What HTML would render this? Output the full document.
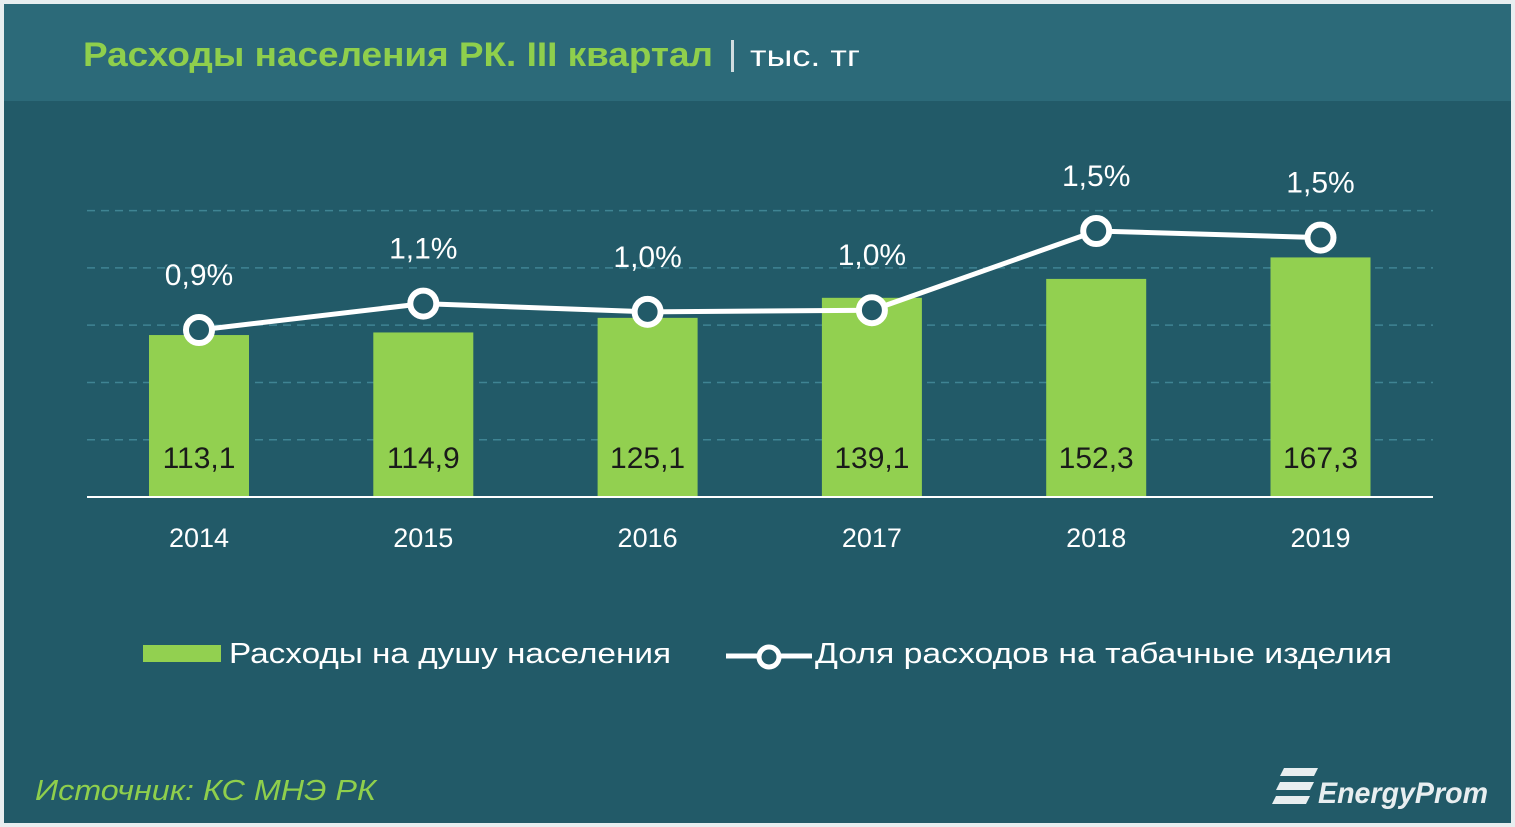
<!DOCTYPE html>
<html><head><meta charset="utf-8"><style>
body{margin:0;width:1515px;height:827px;background:#e8eef0;overflow:hidden;font-family:"Liberation Sans",sans-serif}
#card{position:absolute;left:4px;top:4px;width:1507px;height:819px;background:#225a68}
#hdr{position:absolute;left:0;top:0;width:1507px;height:97px;background:#2c6a79}
</style></head><body>
<div id="card">
<div id="hdr"></div>
</div>
<svg width="1515" height="827" style="position:absolute;left:0;top:0">
<text x="83" y="66" font-size="34" font-weight="bold" fill="#8fcf4c" textLength="630" lengthAdjust="spacingAndGlyphs">Расходы населения РК. III квартал</text>
<rect x="731" y="40" width="3" height="32" fill="#d0dde0"/>
<text x="750" y="66" font-size="30" fill="#ffffff" textLength="110" lengthAdjust="spacingAndGlyphs">тыс. тг</text>
<g id="grid"></g><g id="bars"></g><g id="line"></g>
<line x1="87" x2="1433" y1="497" y2="497" stroke="#ffffff" stroke-width="2"/>
<g>
<rect x="143" y="645" width="78" height="17" fill="#92d050"/>
<text x="229" y="663" font-size="29" fill="#fff" textLength="442" lengthAdjust="spacingAndGlyphs">Расходы на душу населения</text>
<line x1="726" x2="812" y1="656" y2="656" stroke="#fff" stroke-width="5"/>
<circle cx="769" cy="657" r="10" fill="#225a68" stroke="#fff" stroke-width="5"/>
<text x="815" y="663" font-size="29" fill="#fff" textLength="577" lengthAdjust="spacingAndGlyphs">Доля расходов на табачные изделия</text>
</g>
<text x="35" y="800" font-size="29" font-style="italic" fill="#8fcf4c" textLength="341" lengthAdjust="spacingAndGlyphs">Источник: КС МНЭ РК</text>
<g>
<path d="M1284 768h34l-4 8h-34zM1280 782h34l-4 8h-34zM1276 796h34l-4 8h-34z" fill="#e8eef0"/>
<text x="1318" y="803" font-size="30" font-style="italic" font-weight="bold" fill="#e8eef0" textLength="170" lengthAdjust="spacingAndGlyphs">EnergyProm</text>
</g>
</svg>
<script>
const years=["2014","2015","2016","2017","2018","2019"];
const spend=[113.1,114.9,125.1,139.1,152.3,167.3];
const spendLabels=["113,1","114,9","125,1","139,1","152,3","167,3"];
const share=[0.9,1.06,1.01,1.02,1.5,1.46];
const shareLabels=["0,9%","1,1%","1,0%","1,0%","1,5%","1,5%"];
const gridTicks=[40,80,120,160,200];
const NS="http://www.w3.org/2000/svg";
const x=i=>199+i*224.3;
const yb=v=>497-v*1.432;
const yl=v=>330-(v-0.9)*165;
function mk(t,a,p){const e=document.createElementNS(NS,t);for(const k in a)e.setAttribute(k,a[k]);p.appendChild(e);return e;}
const G=document.getElementById('grid'),B=document.getElementById('bars'),L=document.getElementById('line');
gridTicks.forEach(v=>{const e=mk('line',{x1:87,x2:1433,y1:yb(v),y2:yb(v),stroke:'#3f8493','stroke-width':1.5,'stroke-dasharray':'8,6'},G);

});
years.forEach((yr,i)=>{
const r=mk('rect',{x:x(i)-50,y:yb(spend[i]),width:100,height:497-yb(spend[i]),fill:'#92d050'},B);


const t=mk('text',{x:x(i),y:468,'font-size':30,'text-anchor':'middle',fill:'#1a1a1a'},B);t.textContent=spendLabels[i];


const a=mk('text',{x:x(i),y:547,'font-size':27,'text-anchor':'middle',fill:'#fff'},B);a.textContent=yr;


});
const pl=mk('polyline',{points:share.map((v,i)=>x(i)+','+yl(v)).join(' '),fill:'none',stroke:'#fff','stroke-width':5},L);


share.forEach((v,i)=>{
const c=mk('circle',{cx:x(i),cy:yl(v),r:13,fill:'#225a68',stroke:'#fff','stroke-width':6},L);


const t=mk('text',{x:x(i),y:yl(v)-45,'font-size':30,'text-anchor':'middle',fill:'#fff'},L);t.textContent=shareLabels[i];


});
</script>
</body></html>
